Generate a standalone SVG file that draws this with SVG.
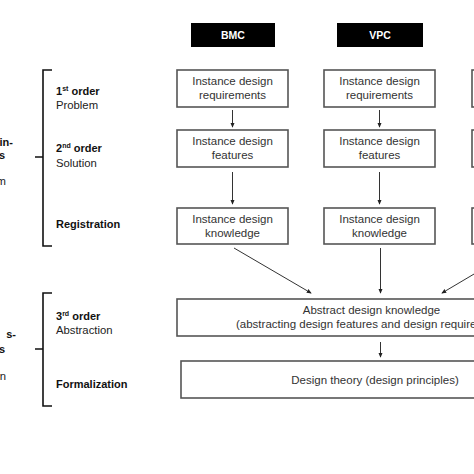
<svg xmlns="http://www.w3.org/2000/svg" width="474" height="474" viewBox="0 0 474 474">
<defs>
<style>
text{font-family:"Liberation Sans",Arial,sans-serif;fill:#333}
.hd{fill:#000}
.hdt{fill:#fff;font-weight:bold;font-size:10.5px;text-anchor:middle}
.box{fill:#fff;stroke:#555;stroke-width:1.6}
.bt{font-size:11.5px;text-anchor:middle}
.lb{font-size:11.3px;fill:#222}
.b{font-weight:bold;fill:#111;font-size:11px}
.br{fill:none;stroke:#111;stroke-width:1.6}
.ar{fill:none;stroke:#333;stroke-width:1;marker-end:url(#ah)}
</style>
<marker id="ah" viewBox="0 0 6 6" refX="5" refY="3" markerWidth="5" markerHeight="5" orient="auto" markerUnits="userSpaceOnUse">
<path d="M0,0.5 L6,3 L0,5.5 Z" fill="#222"/>
</marker>
</defs>
<rect width="474" height="474" fill="#fff"/>

<g id="cut-labels">
<text class="lb b" x="13" y="146" text-anchor="end">in-</text>
<text class="lb b" x="5" y="159" text-anchor="end">s</text>
<text class="lb" x="6" y="185" text-anchor="end">m</text>
<text class="lb b" x="16" y="338" text-anchor="end">s-</text>
<text class="lb b" x="5" y="353" text-anchor="end">s</text>
<text class="lb" x="6" y="380" text-anchor="end">n</text>
</g>

<g id="bracket1">
<path class="br" d="M52,70 H43 V246 H52 M35,157 H43"/>
<text class="lb b" x="56" y="95">1<tspan font-size="7" dy="-4">st</tspan><tspan dy="4"> order</tspan></text>
<text class="lb" x="56" y="109">Problem</text>
<text class="lb b" x="56" y="152">2<tspan font-size="7" dy="-4">nd</tspan><tspan dy="4"> order</tspan></text>
<text class="lb" x="56" y="167">Solution</text>
<text class="lb b" x="56" y="228">Registration</text>
</g>

<g id="bracket2">
<path class="br" d="M52,293 H43 V406 H52 M35,349 H43"/>
<text class="lb b" x="56" y="320">3<tspan font-size="7" dy="-4">rd</tspan><tspan dy="4"> order</tspan></text>
<text class="lb" x="56" y="334">Abstraction</text>
<text class="lb b" x="56" y="388">Formalization</text>
</g>

<g id="bmc-header"><rect class="hd" x="191" y="23" width="84" height="24"/><text class="hdt" x="233" y="39">BMC</text></g>
<g id="vpc-header"><rect class="hd" x="337" y="23" width="86" height="24"/><text class="hdt" x="380" y="39">VPC</text></g>

<g id="bmc-req"><rect class="box" x="177" y="70" width="111" height="37"/><text class="bt" x="232.5" y="85">Instance design</text><text class="bt" x="232.5" y="99">requirements</text></g>
<g id="bmc-feat"><rect class="box" x="177" y="130" width="111" height="37"/><text class="bt" x="232.5" y="145">Instance design</text><text class="bt" x="232.5" y="159">features</text></g>
<g id="bmc-know"><rect class="box" x="177" y="208" width="111" height="36"/><text class="bt" x="232.5" y="223">Instance design</text><text class="bt" x="232.5" y="237">knowledge</text></g>

<g id="vpc-req"><rect class="box" x="324" y="70" width="111" height="37"/><text class="bt" x="379.5" y="85">Instance design</text><text class="bt" x="379.5" y="99">requirements</text></g>
<g id="vpc-feat"><rect class="box" x="324" y="130" width="111" height="37"/><text class="bt" x="379.5" y="145">Instance design</text><text class="bt" x="379.5" y="159">features</text></g>
<g id="vpc-know"><rect class="box" x="324" y="208" width="111" height="36"/><text class="bt" x="379.5" y="223">Instance design</text><text class="bt" x="379.5" y="237">knowledge</text></g>

<g id="col3-req"><rect class="box" x="472" y="70" width="111" height="37"/></g>
<g id="col3-feat"><rect class="box" x="472" y="130" width="111" height="37"/></g>
<g id="col3-know"><rect class="box" x="472" y="208" width="111" height="36"/></g>

<g id="abstract"><rect class="box" x="177" y="299" width="320" height="37"/>
<text class="bt" x="371.5" y="314">Abstract design knowledge</text>
<text class="bt" x="236" y="328" style="text-anchor:start">(abstracting design features and design requirements)</text></g>

<g id="theory"><rect class="box" x="181" y="361" width="320" height="37"/>
<text class="bt" x="375" y="384">Design theory (design principles)</text></g>

<g id="connectors">
<path class="ar" d="M232.5,110 V127"/>
<path class="ar" d="M232.5,172 V204"/>
<path class="ar" d="M379.5,110 V127"/>
<path class="ar" d="M379.5,172 V204"/>
<path class="ar" d="M234,248 L311,293"/>
<path class="ar" d="M380.5,248 V293"/>
<path class="ar" d="M518,248 L442,293"/>
<path class="ar" d="M380.5,342 V357"/>
</g>
</svg>
